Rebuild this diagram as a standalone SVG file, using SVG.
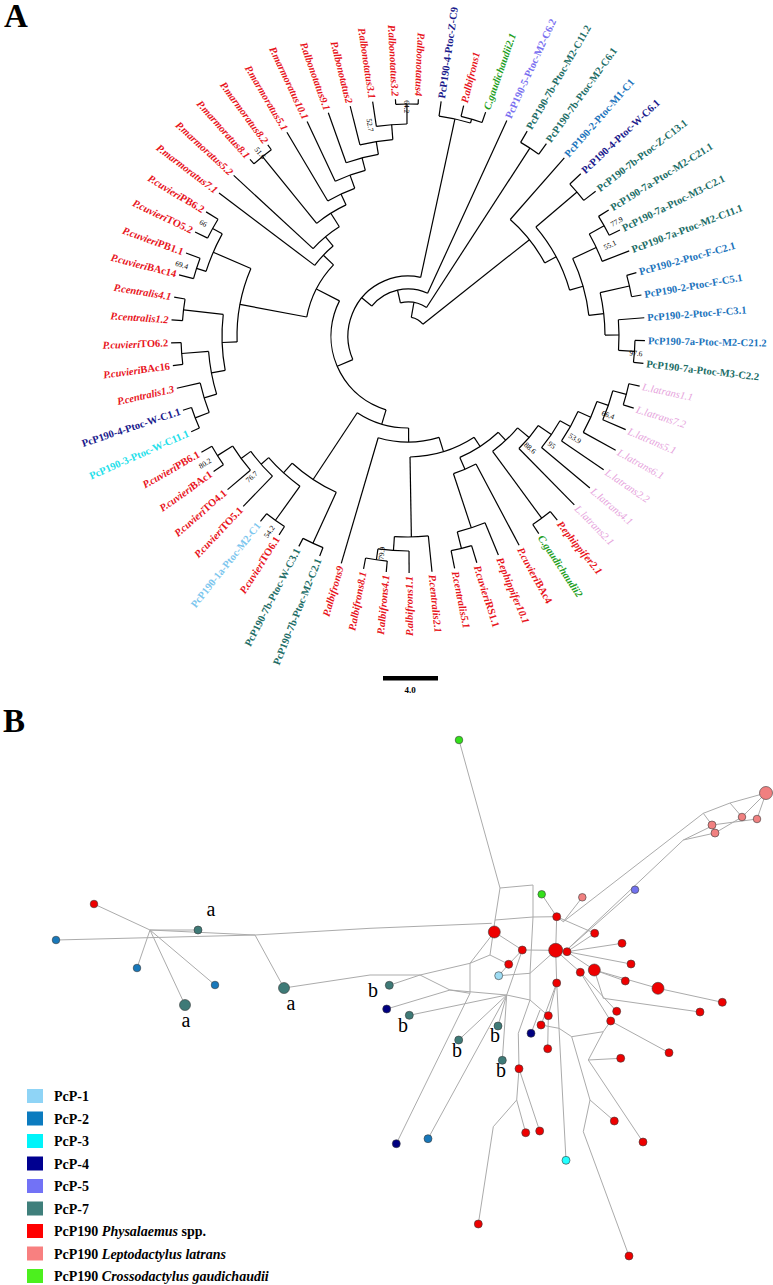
<svg xmlns="http://www.w3.org/2000/svg" width="773" height="1285" viewBox="0 0 773 1285">
<style>
text{font-family:"Liberation Serif","Times New Roman",serif}
.lab{font-size:10.5px;font-weight:bold;dominant-baseline:central}
.le{text-anchor:end}
.i{font-style:italic}
.red{fill:#e8141c}.grn{fill:#1f9f1f}.nav{fill:#1a1a8c}.cya{fill:#1fe0ea}.lbl{fill:#7cc6ee}.blu{fill:#1c74bc}.tea{fill:#216d66}.pur{fill:#7a70f0}.pnk{fill:#e6a2dc;font-weight:normal}
.bs{font-size:7.5px;fill:#000;text-anchor:middle;dominant-baseline:central}
#branches line,#branches circle{fill:none;stroke:#000;stroke-width:1.2}
.net polyline{stroke:#ababab;stroke-width:1;fill:none}
.n{stroke:#3a3a3a;stroke-width:0.6}
.cR{fill:#ee0000}.cP{fill:#f08080}.cG{fill:#33e01a}.cN{fill:#000080}.cT{fill:#3e7a77}.cL{fill:#9edcf3}.cC{fill:#22ffff}.cB{fill:#1878ba}.cV{fill:#7272ee}
.leg{font-size:14px;font-weight:bold}
</style>
<text x="4" y="27" font-size="33" font-weight="bold">A</text>
<text x="3" y="732" font-size="33" font-weight="bold">B</text>

<g id="branches" transform="translate(408,336)">
<line x1="232" x2="237" transform="rotate(-87.5)"/>
<line x1="232" x2="237" transform="rotate(-93.04)"/>
<line x1="212" x2="237" transform="rotate(-98.58)"/>
<line x1="197" x2="237" transform="rotate(-104.12)"/>
<line x1="184" x2="237" transform="rotate(-109.65)"/>
<line x1="171" x2="237" transform="rotate(-115.19)"/>
<line x1="157" x2="237" transform="rotate(-120.73)"/>
<line x1="231" x2="237" transform="rotate(-126.27)"/>
<line x1="231" x2="237" transform="rotate(-131.81)"/>
<line x1="129" x2="237" transform="rotate(-137.35)"/>
<line x1="117" x2="237" transform="rotate(-142.88)"/>
<line x1="223" x2="237" transform="rotate(-148.42)"/>
<line x1="223" x2="237" transform="rotate(-153.96)"/>
<line x1="222" x2="237" transform="rotate(-159.5)"/>
<line x1="222" x2="237" transform="rotate(-165.04)"/>
<line x1="226" x2="237" transform="rotate(-170.58)"/>
<line x1="226" x2="237" transform="rotate(-176.12)"/>
<line x1="227" x2="237" transform="rotate(-181.65)"/>
<line x1="227" x2="237" transform="rotate(-187.19)"/>
<line x1="213" x2="237" transform="rotate(-192.73)"/>
<line x1="228" x2="237" transform="rotate(-198.27)"/>
<line x1="228" x2="237" transform="rotate(-203.81)"/>
<line x1="225" x2="237" transform="rotate(-209.35)"/>
<line x1="225" x2="237" transform="rotate(-214.88)"/>
<line x1="207" x2="237" transform="rotate(-220.42)"/>
<line x1="195" x2="237" transform="rotate(-225.96)"/>
<line x1="227" x2="237" transform="rotate(-231.5)"/>
<line x1="227" x2="237" transform="rotate(-237.04)"/>
<line x1="228" x2="237" transform="rotate(-242.58)"/>
<line x1="228" x2="237" transform="rotate(-248.12)"/>
<line x1="106" x2="237" transform="rotate(-253.65)"/>
<line x1="226" x2="237" transform="rotate(-259.19)"/>
<line x1="226" x2="237" transform="rotate(-264.73)"/>
<line x1="215" x2="237" transform="rotate(-270.27)"/>
<line x1="201" x2="237" transform="rotate(-275.81)"/>
<line x1="219" x2="237" transform="rotate(-281.35)"/>
<line x1="219" x2="237" transform="rotate(-286.88)"/>
<line x1="202" x2="237" transform="rotate(-292.42)"/>
<line x1="145" x2="237" transform="rotate(-297.96)"/>
<line x1="226" x2="237" transform="rotate(-303.5)"/>
<line x1="226" x2="237" transform="rotate(-309.04)"/>
<line x1="158" x2="237" transform="rotate(-314.58)"/>
<line x1="174" x2="237" transform="rotate(-320.12)"/>
<line x1="186" x2="237" transform="rotate(-325.65)"/>
<line x1="200" x2="237" transform="rotate(-331.19)"/>
<line x1="212" x2="237" transform="rotate(-336.73)"/>
<line x1="226" x2="237" transform="rotate(-342.27)"/>
<line x1="226" x2="237" transform="rotate(-347.81)"/>
<line x1="227" x2="237" transform="rotate(-353.35)"/>
<line x1="227" x2="237" transform="rotate(-358.88)"/>
<line x1="211" x2="237" transform="rotate(-364.42)"/>
<line x1="227" x2="237" transform="rotate(-369.96)"/>
<line x1="227" x2="237" transform="rotate(-375.5)"/>
<line x1="208" x2="237" transform="rotate(-381.04)"/>
<line x1="225" x2="237" transform="rotate(-386.58)"/>
<line x1="225" x2="237" transform="rotate(-392.12)"/>
<line x1="222" x2="237" transform="rotate(-397.65)"/>
<line x1="222" x2="237" transform="rotate(-403.19)"/>
<line x1="155" x2="237" transform="rotate(-408.73)"/>
<line x1="224" x2="237" transform="rotate(-414.27)"/>
<line x1="224" x2="237" transform="rotate(-419.81)"/>
<line x1="47" x2="237" transform="rotate(-425.35)"/>
<line x1="226" x2="237" transform="rotate(-70.88)"/>
<line x1="226" x2="237" transform="rotate(-76.42)"/>
<line x1="222" x2="237" transform="rotate(-81.96)"/>
<line x1="212" x2="232" transform="rotate(-90.27)"/>
<line x1="197" x2="212" transform="rotate(-94.42)"/>
<line x1="184" x2="197" transform="rotate(-99.27)"/>
<line x1="171" x2="184" transform="rotate(-104.46)"/>
<line x1="157" x2="171" transform="rotate(-109.83)"/>
<line x1="145" x2="157" transform="rotate(-115.28)"/>
<line x1="145" x2="231" transform="rotate(-129.04)"/>
<line x1="129" x2="145" transform="rotate(-122.16)"/>
<line x1="117" x2="129" transform="rotate(-129.76)"/>
<line x1="103" x2="117" transform="rotate(-136.32)"/>
<line x1="212" x2="223" transform="rotate(-151.19)"/>
<line x1="212" x2="222" transform="rotate(-162.27)"/>
<line x1="171" x2="212" transform="rotate(-156.73)"/>
<line x1="186" x2="226" transform="rotate(-173.35)"/>
<line x1="200" x2="227" transform="rotate(-184.42)"/>
<line x1="213" x2="228" transform="rotate(-201.04)"/>
<line x1="200" x2="213" transform="rotate(-196.89)"/>
<line x1="186" x2="200" transform="rotate(-190.65)"/>
<line x1="171" x2="186" transform="rotate(-182)"/>
<line x1="103" x2="171" transform="rotate(-169.37)"/>
<line x1="77" x2="103" transform="rotate(-152.85)"/>
<line x1="207" x2="225" transform="rotate(-212.12)"/>
<line x1="195" x2="207" transform="rotate(-216.27)"/>
<line x1="185" x2="195" transform="rotate(-221.12)"/>
<line x1="185" x2="227" transform="rotate(-234.27)"/>
<line x1="172" x2="185" transform="rotate(-227.69)"/>
<line x1="172" x2="228" transform="rotate(-245.35)"/>
<line x1="92" x2="172" transform="rotate(-236.52)"/>
<line x1="215" x2="226" transform="rotate(-261.96)"/>
<line x1="201" x2="215" transform="rotate(-266.12)"/>
<line x1="121" x2="201" transform="rotate(-270.96)"/>
<line x1="202" x2="219" transform="rotate(-284.12)"/>
<line x1="145" x2="202" transform="rotate(-288.27)"/>
<line x1="132" x2="145" transform="rotate(-293.12)"/>
<line x1="143" x2="226" transform="rotate(-306.27)"/>
<line x1="212" x2="226" transform="rotate(-345.04)"/>
<line x1="200" x2="212" transform="rotate(-340.88)"/>
<line x1="186" x2="200" transform="rotate(-336.04)"/>
<line x1="174" x2="186" transform="rotate(-330.85)"/>
<line x1="158" x2="174" transform="rotate(-325.48)"/>
<line x1="143" x2="158" transform="rotate(-320.03)"/>
<line x1="132" x2="143" transform="rotate(-313.15)"/>
<line x1="121" x2="132" transform="rotate(-303.13)"/>
<line x1="106" x2="121" transform="rotate(-287.05)"/>
<line x1="92" x2="106" transform="rotate(-270.35)"/>
<line x1="77" x2="92" transform="rotate(-253.43)"/>
<line x1="60" x2="77" transform="rotate(-203.14)"/>
<line x1="222" x2="226" transform="rotate(-73.65)"/>
<line x1="60" x2="222" transform="rotate(-77.81)"/>
<line x1="47" x2="60" transform="rotate(-140.47)"/>
<line x1="211" x2="227" transform="rotate(-356.12)"/>
<line x1="197" x2="211" transform="rotate(-360.27)"/>
<line x1="197" x2="227" transform="rotate(-372.73)"/>
<line x1="182" x2="197" transform="rotate(-366.5)"/>
<line x1="208" x2="225" transform="rotate(-389.35)"/>
<line x1="182" x2="208" transform="rotate(-385.2)"/>
<line x1="168" x2="182" transform="rotate(-375.85)"/>
<line x1="168" x2="222" transform="rotate(-400.42)"/>
<line x1="155" x2="168" transform="rotate(-388.13)"/>
<line x1="19" x2="155" transform="rotate(-398.43)"/>
<line x1="34" x2="224" transform="rotate(-417.04)"/>
<line x1="34" x2="47" transform="rotate(-102.91)"/>
<line x1="19" x2="34" transform="rotate(-79.98)"/>
<circle r="232" pathLength="360" stroke-dasharray="5.54 400" transform="rotate(-93.04)"/>
<circle r="212" pathLength="360" stroke-dasharray="8.31 400" transform="rotate(-98.58)"/>
<circle r="197" pathLength="360" stroke-dasharray="9.70 400" transform="rotate(-104.12)"/>
<circle r="184" pathLength="360" stroke-dasharray="10.38 400" transform="rotate(-109.65)"/>
<circle r="171" pathLength="360" stroke-dasharray="10.73 400" transform="rotate(-115.19)"/>
<circle r="157" pathLength="360" stroke-dasharray="10.90 400" transform="rotate(-120.73)"/>
<circle r="231" pathLength="360" stroke-dasharray="5.54 400" transform="rotate(-131.81)"/>
<circle r="145" pathLength="360" stroke-dasharray="13.76 400" transform="rotate(-129.04)"/>
<circle r="129" pathLength="360" stroke-dasharray="15.19 400" transform="rotate(-137.35)"/>
<circle r="117" pathLength="360" stroke-dasharray="13.12 400" transform="rotate(-142.88)"/>
<circle r="223" pathLength="360" stroke-dasharray="5.54 400" transform="rotate(-153.96)"/>
<circle r="222" pathLength="360" stroke-dasharray="5.54 400" transform="rotate(-165.04)"/>
<circle r="212" pathLength="360" stroke-dasharray="11.08 400" transform="rotate(-162.27)"/>
<circle r="226" pathLength="360" stroke-dasharray="5.54 400" transform="rotate(-176.12)"/>
<circle r="227" pathLength="360" stroke-dasharray="5.54 400" transform="rotate(-187.19)"/>
<circle r="228" pathLength="360" stroke-dasharray="5.54 400" transform="rotate(-203.81)"/>
<circle r="213" pathLength="360" stroke-dasharray="8.31 400" transform="rotate(-201.04)"/>
<circle r="200" pathLength="360" stroke-dasharray="12.47 400" transform="rotate(-196.89)"/>
<circle r="186" pathLength="360" stroke-dasharray="17.30 400" transform="rotate(-190.65)"/>
<circle r="171" pathLength="360" stroke-dasharray="25.27 400" transform="rotate(-182)"/>
<circle r="103" pathLength="360" stroke-dasharray="33.05 400" transform="rotate(-169.37)"/>
<circle r="225" pathLength="360" stroke-dasharray="5.53 400" transform="rotate(-214.88)"/>
<circle r="207" pathLength="360" stroke-dasharray="8.30 400" transform="rotate(-220.42)"/>
<circle r="195" pathLength="360" stroke-dasharray="9.69 400" transform="rotate(-225.96)"/>
<circle r="227" pathLength="360" stroke-dasharray="5.54 400" transform="rotate(-237.04)"/>
<circle r="185" pathLength="360" stroke-dasharray="13.15 400" transform="rotate(-234.27)"/>
<circle r="228" pathLength="360" stroke-dasharray="5.54 400" transform="rotate(-248.12)"/>
<circle r="172" pathLength="360" stroke-dasharray="17.66 400" transform="rotate(-245.35)"/>
<circle r="226" pathLength="360" stroke-dasharray="5.54 400" transform="rotate(-264.73)"/>
<circle r="215" pathLength="360" stroke-dasharray="8.31 400" transform="rotate(-270.27)"/>
<circle r="201" pathLength="360" stroke-dasharray="9.69 400" transform="rotate(-275.81)"/>
<circle r="219" pathLength="360" stroke-dasharray="5.53 400" transform="rotate(-286.88)"/>
<circle r="202" pathLength="360" stroke-dasharray="8.30 400" transform="rotate(-292.42)"/>
<circle r="145" pathLength="360" stroke-dasharray="9.69 400" transform="rotate(-297.96)"/>
<circle r="226" pathLength="360" stroke-dasharray="5.54 400" transform="rotate(-309.04)"/>
<circle r="226" pathLength="360" stroke-dasharray="5.54 400" transform="rotate(-347.81)"/>
<circle r="212" pathLength="360" stroke-dasharray="8.31 400" transform="rotate(-345.04)"/>
<circle r="200" pathLength="360" stroke-dasharray="9.69 400" transform="rotate(-340.88)"/>
<circle r="186" pathLength="360" stroke-dasharray="10.39 400" transform="rotate(-336.04)"/>
<circle r="174" pathLength="360" stroke-dasharray="10.73 400" transform="rotate(-330.85)"/>
<circle r="158" pathLength="360" stroke-dasharray="10.90 400" transform="rotate(-325.48)"/>
<circle r="143" pathLength="360" stroke-dasharray="13.76 400" transform="rotate(-320.03)"/>
<circle r="132" pathLength="360" stroke-dasharray="20.03 400" transform="rotate(-313.15)"/>
<circle r="121" pathLength="360" stroke-dasharray="32.17 400" transform="rotate(-303.13)"/>
<circle r="106" pathLength="360" stroke-dasharray="33.40 400" transform="rotate(-287.05)"/>
<circle r="92" pathLength="360" stroke-dasharray="33.83 400" transform="rotate(-270.35)"/>
<circle r="77" pathLength="360" stroke-dasharray="100.58 400" transform="rotate(-253.43)"/>
<circle r="226" pathLength="360" stroke-dasharray="5.54 400" transform="rotate(-76.42)"/>
<circle r="222" pathLength="360" stroke-dasharray="8.31 400" transform="rotate(-81.96)"/>
<circle r="60" pathLength="360" stroke-dasharray="125.33 400" transform="rotate(-203.14)"/>
<circle r="227" pathLength="360" stroke-dasharray="5.53 400" transform="rotate(-358.88)"/>
<circle r="211" pathLength="360" stroke-dasharray="8.30 400" transform="rotate(-364.42)"/>
<circle r="227" pathLength="360" stroke-dasharray="5.54 400" transform="rotate(-375.5)"/>
<circle r="197" pathLength="360" stroke-dasharray="12.46 400" transform="rotate(-372.73)"/>
<circle r="225" pathLength="360" stroke-dasharray="5.54 400" transform="rotate(-392.12)"/>
<circle r="208" pathLength="360" stroke-dasharray="8.31 400" transform="rotate(-389.35)"/>
<circle r="182" pathLength="360" stroke-dasharray="18.70 400" transform="rotate(-385.2)"/>
<circle r="222" pathLength="360" stroke-dasharray="5.54 400" transform="rotate(-403.19)"/>
<circle r="168" pathLength="360" stroke-dasharray="24.57 400" transform="rotate(-400.42)"/>
<circle r="155" pathLength="360" stroke-dasharray="20.60 400" transform="rotate(-408.73)"/>
<circle r="224" pathLength="360" stroke-dasharray="5.54 400" transform="rotate(-419.81)"/>
<circle r="47" pathLength="360" stroke-dasharray="75.12 400" transform="rotate(-140.47)"/>
<circle r="34" pathLength="360" stroke-dasharray="45.87 400" transform="rotate(-102.91)"/>
<circle r="19" pathLength="360" stroke-dasharray="41.55 400" transform="rotate(-79.98)"/>
</g>

<g id="leaves" transform="translate(408,336)">
<g id="t1" transform="rotate(92.5)"><text class="lab le red i" x="-240">P.albonotatus4</text></g>
<g id="t2" transform="rotate(86.96)"><text class="lab le red i" x="-240">P.albonotatus3.2</text></g>
<g id="t3" transform="rotate(81.42)"><text class="lab le red i" x="-240">P.albonotatus3.1</text></g>
<g id="t4" transform="rotate(75.88)"><text class="lab le red i" x="-240">P.albonotatus2</text></g>
<g id="t5" transform="rotate(70.35)"><text class="lab le red i" x="-240">P.albonotatus9.1</text></g>
<g id="t6" transform="rotate(64.81)"><text class="lab le red i" x="-240">P.marmoratus10.1</text></g>
<g id="t7" transform="rotate(59.27)"><text class="lab le red i" x="-240">P.marmoratus5.1</text></g>
<g id="t8" transform="rotate(53.73)"><text class="lab le red i" x="-240">P.marmoratus8.2</text></g>
<g id="t9" transform="rotate(48.19)"><text class="lab le red i" x="-240">P.marmoratus8.1</text></g>
<g id="t10" transform="rotate(42.65)"><text class="lab le red i" x="-240">P.marmoratus5.2</text></g>
<g id="t11" transform="rotate(37.12)"><text class="lab le red i" x="-240">P.marmoratus7.1</text></g>
<g id="t12" transform="rotate(31.58)"><text class="lab le red" x="-240"><tspan class="i">P.cuvieri</tspan>PB6.2</text></g>
<g id="t13" transform="rotate(26.04)"><text class="lab le red" x="-240"><tspan class="i">P.cuvieri</tspan>TO5.2</text></g>
<g id="t14" transform="rotate(20.5)"><text class="lab le red" x="-240"><tspan class="i">P.cuvieri</tspan>PB1.1</text></g>
<g id="t15" transform="rotate(14.96)"><text class="lab le red" x="-240"><tspan class="i">P.cuvieri</tspan>BAc14</text></g>
<g id="t16" transform="rotate(9.42)"><text class="lab le red i" x="-240">P.centralis4.1</text></g>
<g id="t17" transform="rotate(3.88)"><text class="lab le red i" x="-240">P.centralis1.2</text></g>
<g id="t18" transform="rotate(-1.65)"><text class="lab le red" x="-240"><tspan class="i">P.cuvieri</tspan>TO6.2</text></g>
<g id="t19" transform="rotate(-7.19)"><text class="lab le red" x="-240"><tspan class="i">P.cuvieri</tspan>BAc16</text></g>
<g id="t20" transform="rotate(-12.73)"><text class="lab le red i" x="-240">P.centralis1.3</text></g>
<g id="t21" transform="rotate(-18.27)"><text class="lab le nav" x="-240">PcP190-4-Ptoc-W-C1.1</text></g>
<g id="t22" transform="rotate(-23.81)"><text class="lab le cya" x="-240">PcP190-3-Ptoc-W-C11.1</text></g>
<g id="t23" transform="rotate(-29.35)"><text class="lab le red" x="-240"><tspan class="i">P.cuvieri</tspan>PB6.1</text></g>
<g id="t24" transform="rotate(-34.88)"><text class="lab le red" x="-240"><tspan class="i">P.cuvieri</tspan>BAc1</text></g>
<g id="t25" transform="rotate(-40.42)"><text class="lab le red" x="-240"><tspan class="i">P.cuvieri</tspan>TO4.1</text></g>
<g id="t26" transform="rotate(-45.96)"><text class="lab le red" x="-240"><tspan class="i">P.cuvieri</tspan>TO5.1</text></g>
<g id="t27" transform="rotate(-51.5)"><text class="lab le lbl" x="-240">PcP190-1a-Ptoc-M2-C1</text></g>
<g id="t28" transform="rotate(-57.04)"><text class="lab le red" x="-240"><tspan class="i">P.cuvieri</tspan>TO6.1</text></g>
<g id="t29" transform="rotate(-62.58)"><text class="lab le tea" x="-240">PcP190-7b-Ptoc-W-C3.1</text></g>
<g id="t30" transform="rotate(-68.12)"><text class="lab le tea" x="-240">PcP190-7b-Ptoc-M2-C2.1</text></g>
<g id="t31" transform="rotate(-73.65)"><text class="lab le red i" x="-240">P.albifrons9</text></g>
<g id="t32" transform="rotate(-79.19)"><text class="lab le red i" x="-240">P.albifrons8.1</text></g>
<g id="t33" transform="rotate(-84.73)"><text class="lab le red i" x="-240">P.albifrons4.1</text></g>
<g id="t34" transform="rotate(-90.27)"><text class="lab le red i" x="-240">P.albifrons1.1</text></g>
<g id="t35" transform="rotate(84.19)"><text class="lab red i" x="240">P.centralis2.1</text></g>
<g id="t36" transform="rotate(78.65)"><text class="lab red i" x="240">P.centralis5.1</text></g>
<g id="t37" transform="rotate(73.12)"><text class="lab red" x="240"><tspan class="i">P.cuvieri</tspan>RS1.1</text></g>
<g id="t38" transform="rotate(67.58)"><text class="lab red i" x="240">P.ephippifer10.1</text></g>
<g id="t39" transform="rotate(62.04)"><text class="lab red" x="240"><tspan class="i">P.cuvieri</tspan>BAc4</text></g>
<g id="t40" transform="rotate(56.5)"><text class="lab grn i" x="240">C.gaudichaudii2</text></g>
<g id="t41" transform="rotate(50.96)"><text class="lab red i" x="240">P.ephippifer2.1</text></g>
<g id="t42" transform="rotate(45.42)"><text class="lab pnk i" x="240">L.latrans2.1</text></g>
<g id="t43" transform="rotate(39.88)"><text class="lab pnk i" x="240">L.latrans4.1</text></g>
<g id="t44" transform="rotate(34.35)"><text class="lab pnk i" x="240">L.latrans2.2</text></g>
<g id="t45" transform="rotate(28.81)"><text class="lab pnk i" x="240">L.latrans6.1</text></g>
<g id="t46" transform="rotate(23.27)"><text class="lab pnk i" x="240">L.latrans5.1</text></g>
<g id="t47" transform="rotate(17.73)"><text class="lab pnk i" x="240">L.latrans7.2</text></g>
<g id="t48" transform="rotate(12.19)"><text class="lab pnk i" x="240">L.latrans1.1</text></g>
<g id="t49" transform="rotate(6.65)"><text class="lab tea" x="240">PcP190-7a-Ptoc-M3-C2.2</text></g>
<g id="t50" transform="rotate(1.12)"><text class="lab blu" x="240">PcP190-7a-Ptoc-M2-C21.2</text></g>
<g id="t51" transform="rotate(-4.42)"><text class="lab blu" x="240">PcP190-2-Ptoc-F-C3.1</text></g>
<g id="t52" transform="rotate(-9.96)"><text class="lab blu" x="240">PcP190-2-Ptoc-F-C5.1</text></g>
<g id="t53" transform="rotate(-15.5)"><text class="lab blu" x="240">PcP190-2-Ptoc-F-C2.1</text></g>
<g id="t54" transform="rotate(-21.04)"><text class="lab tea" x="240">PcP190-7a-Ptoc-M2-C11.1</text></g>
<g id="t55" transform="rotate(-26.58)"><text class="lab tea" x="240">PcP190-7a-Ptoc-M3-C2.1</text></g>
<g id="t56" transform="rotate(-32.12)"><text class="lab tea" x="240">PcP190-7a-Ptoc-M2-C21.1</text></g>
<g id="t57" transform="rotate(-37.65)"><text class="lab tea" x="240">PcP190-7b-Ptoc-Z-C13.1</text></g>
<g id="t58" transform="rotate(-43.19)"><text class="lab nav" x="240">PcP190-4-Ptoc-W-C6.1</text></g>
<g id="t59" transform="rotate(-48.73)"><text class="lab blu" x="240">PcP190-2-Ptoc-M1-C1</text></g>
<g id="t60" transform="rotate(-54.27)"><text class="lab tea" x="240">PcP190-7b-Ptoc-M2-C6.1</text></g>
<g id="t61" transform="rotate(-59.81)"><text class="lab tea" x="240">PcP190-7b-Ptoc-M2-C11.2</text></g>
<g id="t62" transform="rotate(-65.35)"><text class="lab pur" x="240">PcP190-5-Ptoc-M2-C6.2</text></g>
<g id="t63" transform="rotate(-70.88)"><text class="lab grn i" x="240">C.gaudichaudii2.1</text></g>
<g id="t64" transform="rotate(-76.42)"><text class="lab red i" x="240">P.albifrons1</text></g>
<g id="t65" transform="rotate(-81.96)"><text class="lab nav" x="240">PcP190-4-Ptoc-Z-C9</text></g>
</g>

<g id="bootstrap">
<text class="bs" transform="translate(406.7,106.7) rotate(89.7)">64.2</text>
<text class="bs" transform="translate(370,125) rotate(79.8)">52.7</text>
<text class="bs" transform="translate(260,153) rotate(51)">51.6</text>
<text class="bs" transform="translate(203.3,223.3) rotate(28.8)">66</text>
<text class="bs" transform="translate(181.7,265) rotate(17.4)">69.4</text>
<text class="bs" transform="translate(205,463.3) rotate(-32.1)">80.2</text>
<text class="bs" transform="translate(251.7,476.7) rotate(-42)">76.7</text>
<text class="bs" transform="translate(269.3,531.7) rotate(-54.7)">54.2</text>
<text class="bs" transform="translate(381.7,553.3) rotate(-83.1)">79.9</text>
<text class="bs" transform="translate(530,448) rotate(42.5)">88.6</text>
<text class="bs" transform="translate(551.7,445) rotate(37.2)">95</text>
<text class="bs" transform="translate(575,438.3) rotate(31.5)">53.9</text>
<text class="bs" transform="translate(608,415) rotate(21.6)">66.4</text>
<text class="bs" transform="translate(636,353.3) rotate(4.3)">97.6</text>
<text class="bs" transform="translate(616.7,221.7) rotate(-28.7)">77.9</text>
<text class="bs" transform="translate(610,245) rotate(-24.3)">55.1</text>
</g>

<g id="scalebar">
<rect x="383" y="676" width="55" height="4.5" fill="#000"/>
<text x="410" y="693" font-size="9" font-weight="bold" text-anchor="middle">4.0</text>
</g>

<g id="network-edges" class="net">
<polyline points="459,740 500,888"/>
<polyline points="500,888 533,885 533,917 556.7,916.7"/>
<polyline points="500,888 495,920 490,955"/>
<polyline points="495,920 533,917"/>
<polyline points="541.7,894.3 556.7,916.7 563.3,921.7 582.3,897.3"/>
<polyline points="563.3,921.7 703.3,813.3 730,803 766,793"/>
<polyline points="566.7,950 683.3,840 712,826"/>
<polyline points="683.3,840 715,833"/>
<polyline points="703.3,813.3 712,825"/>
<polyline points="715,833 742,817 766,793"/>
<polyline points="712,825 757,819 766,793"/>
<polyline points="730,803 742,817"/>
<polyline points="635,889.7 566.7,950"/>
<polyline points="556.7,916.7 555.7,950.3"/>
<polyline points="491.7,923.3 370,928.3 255,935 56,940"/>
<polyline points="94,904 150,930 255,935"/>
<polyline points="150,930 198,930"/>
<polyline points="150,930 137,968"/>
<polyline points="150,930 215,985"/>
<polyline points="150,930 185,1005"/>
<polyline points="255,935 284,988 370,975"/>
<polyline points="494.3,932 522.3,950 555.7,950.3 567,951.7 594.7,933.3"/>
<polyline points="490,955 470,963.3 420,975 370,975"/>
<polyline points="470,963.3 494.3,932"/>
<polyline points="470,963.3 470,993.3 450,990"/>
<polyline points="420,975 450,990 506.7,995"/>
<polyline points="389.3,985.3 420,975"/>
<polyline points="386.7,1009 450,990"/>
<polyline points="409.3,1015.3 506.7,995"/>
<polyline points="458.7,1040 506.7,995 498,1026"/>
<polyline points="502.3,1060.3 506.7,995"/>
<polyline points="396.3,1143.7 470,993.3"/>
<polyline points="428,1138.7 506.7,995"/>
<polyline points="522.3,950 508.7,964.3 498.7,975.7 530,973.3"/>
<polyline points="490,955 508.7,964.3"/>
<polyline points="506.7,995 522.3,950"/>
<polyline points="533,917 530,973.3 530,1000 506.7,995"/>
<polyline points="530,1000 548.3,1015.7"/>
<polyline points="555.7,950.3 556.7,983 548.3,1015.7 547.7,1048.7"/>
<polyline points="555.7,950.3 530,973.3"/>
<polyline points="555.7,950.3 580.3,972.3"/>
<polyline points="567,951.7 622,943.3"/>
<polyline points="567,951.7 631,964"/>
<polyline points="567,951.7 594.3,970 658,988.3 722.3,1002.3"/>
<polyline points="594.3,970 625.3,981"/>
<polyline points="594.3,970 603.3,998.3"/>
<polyline points="580.3,972.3 616.7,1011.3"/>
<polyline points="580.3,972.3 610.7,1021 669,1052.7"/>
<polyline points="603.3,998.3 700,1012"/>
<polyline points="541,1025 556.7,983"/>
<polyline points="541,1025 559,1028.3"/>
<polyline points="531,1033.3 540,1010"/>
<polyline points="530,1000 518.3,1033.3 519,1068.7 516.7,1100 525.7,1132.7"/>
<polyline points="516.7,1100 493.3,1126.7 478.3,1224"/>
<polyline points="519,1068.7 539.7,1131"/>
<polyline points="556.7,983 559,1028.3 566,1160.3"/>
<polyline points="559,1028.3 571.7,1036.7 590,1100 583.3,1131.7 629,1256"/>
<polyline points="590,1100 614.3,1121"/>
<polyline points="571.7,1036.7 603.3,1031.7 610.7,1021"/>
<polyline points="603.3,1031.7 588.3,1060 620.7,1058.3"/>
<polyline points="588.3,1060 643,1142"/>
<polyline points="594.7,933.3 556.7,916.7"/>
</g>

<g id="network-nodes">
<circle class="n cG" cx="459" cy="740" r="3.8"/>
<circle class="n cP" cx="766" cy="793" r="6.5"/>
<circle class="n cP" cx="742" cy="817" r="3.8"/>
<circle class="n cP" cx="757" cy="819" r="3.8"/>
<circle class="n cP" cx="712" cy="825" r="4"/>
<circle class="n cP" cx="715" cy="833" r="4"/>
<circle class="n cG" cx="541.7" cy="894.3" r="3.8"/>
<circle class="n cP" cx="582.3" cy="897.3" r="3.8"/>
<circle class="n cV" cx="635" cy="889.7" r="3.8"/>
<circle class="n cR" cx="494.3" cy="932" r="6"/>
<circle class="n cR" cx="556.7" cy="916.7" r="4"/>
<circle class="n cR" cx="594.7" cy="933.3" r="4"/>
<circle class="n cR" cx="622" cy="943.3" r="4"/>
<circle class="n cR" cx="555.7" cy="950.3" r="7"/>
<circle class="n cR" cx="522.3" cy="950" r="4"/>
<circle class="n cR" cx="567" cy="951.7" r="4"/>
<circle class="n cR" cx="508.7" cy="964.3" r="4"/>
<circle class="n cR" cx="631" cy="964" r="4"/>
<circle class="n cL" cx="498.7" cy="975.7" r="4"/>
<circle class="n cR" cx="594.3" cy="970" r="6"/>
<circle class="n cR" cx="580.3" cy="972.3" r="4"/>
<circle class="n cR" cx="556.7" cy="983" r="4"/>
<circle class="n cR" cx="625.3" cy="981" r="4"/>
<circle class="n cR" cx="658" cy="988.3" r="6"/>
<circle class="n cR" cx="722.3" cy="1002.3" r="4"/>
<circle class="n cR" cx="700" cy="1012" r="4"/>
<circle class="n cR" cx="616.7" cy="1011.3" r="4"/>
<circle class="n cR" cx="610.7" cy="1021" r="4"/>
<circle class="n cR" cx="548.3" cy="1015.7" r="4"/>
<circle class="n cR" cx="541" cy="1025" r="4"/>
<circle class="n cN" cx="531" cy="1033.3" r="4"/>
<circle class="n cR" cx="547.7" cy="1048.7" r="4"/>
<circle class="n cR" cx="669" cy="1052.7" r="4"/>
<circle class="n cR" cx="620.7" cy="1058.3" r="4"/>
<circle class="n cR" cx="519" cy="1068.7" r="4"/>
<circle class="n cR" cx="525.7" cy="1132.7" r="4"/>
<circle class="n cR" cx="539.7" cy="1131" r="4"/>
<circle class="n cR" cx="614.3" cy="1121" r="4"/>
<circle class="n cR" cx="643" cy="1142" r="4"/>
<circle class="n cC" cx="566" cy="1160.3" r="4"/>
<circle class="n cN" cx="396.3" cy="1143.7" r="4"/>
<circle class="n cB" cx="428" cy="1138.7" r="4"/>
<circle class="n cR" cx="478.3" cy="1224" r="4"/>
<circle class="n cR" cx="629" cy="1256" r="4"/>
<circle class="n cT" cx="389.3" cy="985.3" r="4"/>
<circle class="n cN" cx="386.7" cy="1009" r="4"/>
<circle class="n cT" cx="409.3" cy="1015.3" r="4"/>
<circle class="n cT" cx="498" cy="1026" r="4"/>
<circle class="n cT" cx="458.7" cy="1040" r="4"/>
<circle class="n cT" cx="502.3" cy="1060.3" r="4"/>
<circle class="n cB" cx="56" cy="940" r="3.8"/>
<circle class="n cR" cx="94" cy="904" r="3.8"/>
<circle class="n cT" cx="198" cy="930" r="4"/>
<circle class="n cB" cx="137" cy="968" r="3.8"/>
<circle class="n cB" cx="215" cy="985" r="3.8"/>
<circle class="n cT" cx="185" cy="1005" r="5.5"/>
<circle class="n cT" cx="284" cy="988" r="5.5"/>
</g>

<g id="network-labels" font-size="20">
<text x="211" y="916" text-anchor="middle">a</text>
<text x="186" y="1027" text-anchor="middle">a</text>
<text x="291" y="1010" text-anchor="middle">a</text>
<text x="373" y="997" text-anchor="middle">b</text>
<text x="403" y="1032" text-anchor="middle">b</text>
<text x="495" y="1042" text-anchor="middle">b</text>
<text x="457" y="1057" text-anchor="middle">b</text>
<text x="501" y="1077" text-anchor="middle">b</text>
</g>

<g id="legend">
<rect x="27" y="1089" width="16" height="14" fill="#8fd4f6"/><text class="leg" x="54" y="1101">PcP-1</text>
<rect x="27" y="1111.5" width="16" height="14" fill="#0b7bbf"/><text class="leg" x="54" y="1123.5">PcP-2</text>
<rect x="27" y="1134" width="16" height="14" fill="#00f4fa"/><text class="leg" x="54" y="1146">PcP-3</text>
<rect x="27" y="1156.5" width="16" height="14" fill="#000090"/><text class="leg" x="54" y="1168.5">PcP-4</text>
<rect x="27" y="1179" width="16" height="14" fill="#7272f6"/><text class="leg" x="54" y="1191">PcP-5</text>
<rect x="27" y="1201.5" width="16" height="14" fill="#3f7f7b"/><text class="leg" x="54" y="1213.5">PcP-7</text>
<rect x="27" y="1224" width="16" height="14" fill="#ff0000"/><text class="leg" x="54" y="1236">PcP190 <tspan class="i">Physalaemus</tspan> spp.</text>
<rect x="27" y="1246.5" width="16" height="14" fill="#f88080"/><text class="leg" x="54" y="1258.5">PcP190 <tspan class="i">Leptodactylus latrans</tspan></text>
<rect x="27" y="1269" width="16" height="14" fill="#4cf01e"/><text class="leg" x="54" y="1281">PcP190 <tspan class="i">Crossodactylus gaudichaudii</tspan></text>
</g>
</svg>
